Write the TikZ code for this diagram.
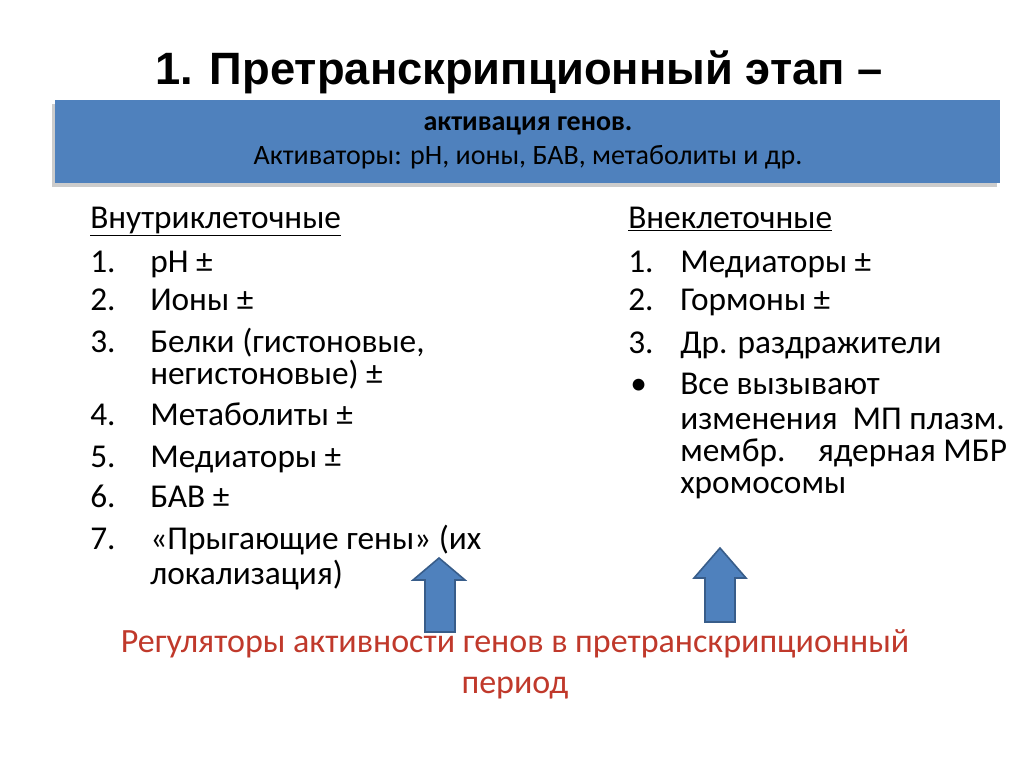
\documentclass[tikz,border=0pt]{standalone}
\usepackage{fontspec}
\setmainfont{Carlito}
\newfontfamily\titlefont{Liberation Sans}
\usetikzlibrary{shadows}
\definecolor{bannerblue}{HTML}{4F81BD}
\definecolor{arrowline}{HTML}{385D8A}
\definecolor{regred}{HTML}{C0392B}
\begin{document}
\begin{tikzpicture}[x=0.75pt,y=-0.75pt,
  txt/.style={anchor=base west,inner sep=0pt,font=\fontsize{25}{30}\selectfont},
  uparrow/.style={fill=bannerblue,draw=arrowline,line width=1.2pt,line join=miter}]
\useasboundingbox (0,0) rectangle (1024,767);
\node[font=\titlefont\bfseries\fontsize{34}{40}\selectfont] (title) at (519,72) {1. Претранскрипционный этап –};
\node[fill=bannerblue,minimum width=945*0.75pt,minimum height=83*0.75pt,inner sep=0pt,
  drop shadow={shadow xshift=-2pt,shadow yshift=-3pt,opacity=0.4}] (banner) at (527.5,141.5) {};
\node[font=\fontsize{21}{25}\selectfont,align=center] (btext) at (528,143)
  {\textbf{активация генов.}\\Активаторы: pH, ионы, БАВ, метаболиты и др.};
% left column
\node[txt] (lh) at (90,228) {\underline{Внутриклеточные}};
\foreach \n/\y/\t in {1/272/pH ±,2/310/Ионы ±,3/352/{Белки (гистоновые,},4/425/Метаболиты ±,5/467/Медиаторы ±,6/507/БАВ ±,7/549/«Прыгающие гены» (их}{
  \node[txt] (ln\n) at (90,\y) {\n.};
  \node[txt] (lt\n) at (150,\y) {\t};
}
\node[txt] (lt3b) at (150,384) {негистоновые) ±};
\node[txt] (lt7b) at (150,584) {локализация)};
% right column
\node[txt] (rh) at (628,228) {\underline{Внеклеточные}};
\foreach \n/\y/\t in {1/272/Медиаторы ±,2/310/Гормоны ±,3/353/Др. раздражители}{
  \node[txt] (rn\n) at (628,\y) {\n.};
  \node[txt] (rt\n) at (680,\y) {\t};
}
\node[txt] (rb) at (630,394) {•};
\foreach \k/\y/\t in {a/394/Все вызывают,b/429/изменения~ МП плазм.,c/461/мембр.~~~ ядерная МБР,d/493/хромосомы}{
  \node[txt] (rt4\k) at (680,\y) {\t};
}
% arrows
\draw[uparrow] (439,558) -- (465,580) -- (455,580) -- (455,632) -- (425,632) -- (425,580) -- (413,580) -- cycle;
\draw[uparrow] (720,548) -- (746,578) -- (735,578) -- (735,622) -- (705,622) -- (705,578) -- (694,578) -- cycle;
\node[font=\fontsize{25.5}{31}\selectfont,text=regred,align=center] (reg) at (515,664)
  {Регуляторы активности генов в претранскрипционный\\период};
\end{tikzpicture}
\end{document}
